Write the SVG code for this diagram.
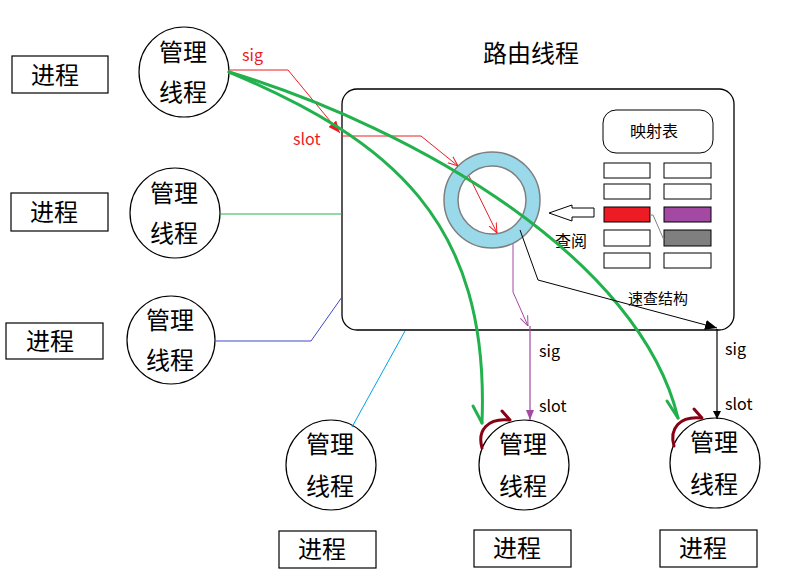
<svg xmlns="http://www.w3.org/2000/svg" width="787" height="581" viewBox="0 0 787 581">
<defs>
<style>
text{font-family:"Noto Sans CJK SC","Noto Sans",sans-serif;fill:#000}
.big{font-size:24px;text-anchor:middle}
.mid{font-size:16px;text-anchor:middle}
.lat{font-size:16px}
.red{fill:#ed1c24}
.node{fill:#fff;stroke:#000;stroke-width:1.2}
.cell{fill:#fff;stroke:#000;stroke-width:1}
.thin{fill:none;stroke-width:1}
.gc{fill:none;stroke:#22b14c;stroke-width:3;stroke-linecap:round}
.dr{fill:none;stroke:#880015;stroke-width:3;stroke-linecap:round}
</style>
<marker id="redFill" markerUnits="userSpaceOnUse" viewBox="0 0 12 10" markerWidth="12" markerHeight="10" refX="12" refY="5" orient="auto"><path d="M0,0 L12,5 L0,10 z" fill="#ed1c24"/></marker>
<marker id="redOpen" markerUnits="userSpaceOnUse" viewBox="0 0 10 10" markerWidth="10" markerHeight="10" refX="10" refY="5" orient="auto"><path d="M0,1 L10,5 L0,9" fill="none" stroke="#ed1c24" stroke-width="1"/></marker>
<marker id="purOpen" markerUnits="userSpaceOnUse" viewBox="0 0 10 10" markerWidth="10" markerHeight="10" refX="10" refY="5" orient="auto"><path d="M0,1 L10,5 L0,9" fill="none" stroke="#a349a4" stroke-width="1"/></marker>
<marker id="purFill" markerUnits="userSpaceOnUse" viewBox="0 0 10 8" markerWidth="10" markerHeight="8" refX="10" refY="4" orient="auto"><path d="M0,0 L10,4 L0,8 z" fill="#a349a4"/></marker>
<marker id="blkFill" markerUnits="userSpaceOnUse" viewBox="0 0 12 10" markerWidth="12" markerHeight="10" refX="12" refY="5" orient="auto"><path d="M0,0 L12,5 L0,10 z" fill="#000"/></marker>
<marker id="blkSmall" markerUnits="userSpaceOnUse" viewBox="0 0 8 8" markerWidth="8" markerHeight="8" refX="8" refY="4" orient="auto"><path d="M0,0 L8,4 L0,8 z" fill="#000"/></marker>
</defs>
<rect width="787" height="581" fill="#fff"/>

<g id="router">
<rect x="342" y="89" width="392" height="241" rx="15" ry="15" fill="#fff" stroke="#000" stroke-width="1.3"/>
<text class="big" x="531" y="62">路由线程</text>
<rect x="603" y="110" width="110" height="43" rx="13" ry="13" fill="#fff" stroke="#000" stroke-width="1"/>
<text class="mid" x="654" y="137">映射表</text>
<rect class="cell" x="604" y="163" width="46" height="15"/>
<rect class="cell" x="664" y="163" width="47" height="15"/>
<rect class="cell" x="604" y="184" width="46" height="15"/>
<rect class="cell" x="664" y="184" width="47" height="15"/>
<rect class="cell" x="604" y="207" width="46" height="15" style="fill:#ed1c24"/>
<rect class="cell" x="664" y="207" width="47" height="15" style="fill:#a349a4"/>
<rect class="cell" x="604" y="230" width="46" height="16"/>
<rect class="cell" x="664" y="230" width="47" height="16" style="fill:#7f7f7f"/>
<rect class="cell" x="604" y="253" width="46" height="15"/>
<rect class="cell" x="664" y="253" width="47" height="15"/>
<polyline points="651,215 653,215 664,240" fill="none" stroke="#7f7f7f" stroke-width="1"/>
<polygon points="549,213 572,205 572,208 594,208 594,217 572,217 572,221" fill="#fff" stroke="#000" stroke-width="1"/>
<text class="mid" x="571" y="247">查阅</text>
<path d="M444,200 a48,48 0 1,0 96,0 a48,48 0 1,0 -96,0 M458,200 a34,34 0 1,0 68,0 a34,34 0 1,0 -68,0" fill="#99d9ea" fill-rule="evenodd" stroke="#7f7f7f" stroke-width="1.5"/>
<text class="mid" x="658" y="304" style="font-size:15px">速查结构</text>
</g>

<g id="proc1"><rect class="node" x="12" y="56" width="96" height="37"/><text class="big" x="55" y="84">进程</text></g>
<g id="proc2"><rect class="node" x="11" y="193" width="97" height="38"/><text class="big" x="54" y="221">进程</text></g>
<g id="proc3"><rect class="node" x="6" y="323" width="97" height="36"/><text class="big" x="50" y="350">进程</text></g>
<g id="proc4"><rect class="node" x="279" y="531" width="97" height="37"/><text class="big" x="322" y="558">进程</text></g>
<g id="proc5"><rect class="node" x="474" y="530" width="97" height="37"/><text class="big" x="517" y="557">进程</text></g>
<g id="proc6"><rect class="node" x="660" y="530" width="97" height="37"/><text class="big" x="703" y="557">进程</text></g>

<g id="mgr1"><circle class="node" cx="184" cy="72" r="45"/><text class="big" x="183" y="61">管理</text><text class="big" x="183" y="101">线程</text></g>
<g id="mgr2"><circle class="node" cx="175" cy="213" r="45"/><text class="big" x="174" y="202">管理</text><text class="big" x="174" y="242">线程</text></g>
<g id="mgr3"><circle class="node" cx="171" cy="340" r="44"/><text class="big" x="170" y="329">管理</text><text class="big" x="170" y="369">线程</text></g>
<g id="mgr4"><circle class="node" cx="331" cy="465" r="45"/><text class="big" x="330" y="453">管理</text><text class="big" x="330" y="495">线程</text></g>
<g id="mgr5"><circle class="node" cx="524" cy="465" r="45"/><text class="big" x="523" y="453">管理</text><text class="big" x="523" y="495">线程</text></g>
<g id="mgr6"><circle class="node" cx="715" cy="463" r="45"/><text class="big" x="714" y="451">管理</text><text class="big" x="714" y="493">线程</text></g>

<g id="connectors">
<line x1="220" y1="214" x2="342" y2="214" stroke="#22b14c" stroke-width="1.2"/>
<polyline points="215,341 311,341 342,297" class="thin" stroke="#3f48cc"/>
<line x1="405" y1="331" x2="352" y2="427" stroke="#00a2e8" stroke-width="1"/>

<polyline points="230,70 288,70 340,133" class="thin" stroke="#ed1c24" marker-end="url(#redFill)"/>
<polyline points="342,136 421,136 458,166" class="thin" stroke="#ed1c24" marker-end="url(#redOpen)"/>
<line x1="469" y1="176" x2="497" y2="233" stroke="#ed1c24" stroke-width="1" marker-end="url(#redOpen)"/>
<text class="lat red" x="242" y="61">sig</text>
<text class="lat red" x="293" y="145">slot</text>

<path class="gc" d="M229,72 C390,140 490,220 482,423"/>
<line class="gc" x1="473" y1="406" x2="482" y2="423"/>
<path class="gc" d="M229,72 C420,130 640,260 678,418"/>
<line class="gc" x1="667" y1="401" x2="678" y2="418"/>

<polyline points="513,244 513,292 528,326" class="thin" stroke="#a349a4" marker-end="url(#purOpen)"/>
<line x1="530" y1="326" x2="530" y2="420" stroke="#a349a4" stroke-width="1.2" marker-end="url(#purFill)"/>
<text class="lat" x="539" y="357">sig</text>
<text class="lat" x="539" y="412">slot</text>

<polyline points="520,230 538,280 717,328" class="thin" stroke="#000" marker-end="url(#blkFill)"/>
<line x1="717" y1="329" x2="717" y2="419" stroke="#000" stroke-width="1.2" marker-end="url(#blkSmall)"/>
<text class="lat" x="725" y="355">sig</text>
<text class="lat" x="725" y="410">slot</text>

<path class="dr" d="M482,448 C477,430 488,418 509,420"/>
<line class="dr" x1="502" y1="411" x2="510" y2="420"/>
<path class="dr" d="M674,446 C669,428 680,416 701,418"/>
<line class="dr" x1="694" y1="409" x2="702" y2="418"/>
</g>
</svg>
